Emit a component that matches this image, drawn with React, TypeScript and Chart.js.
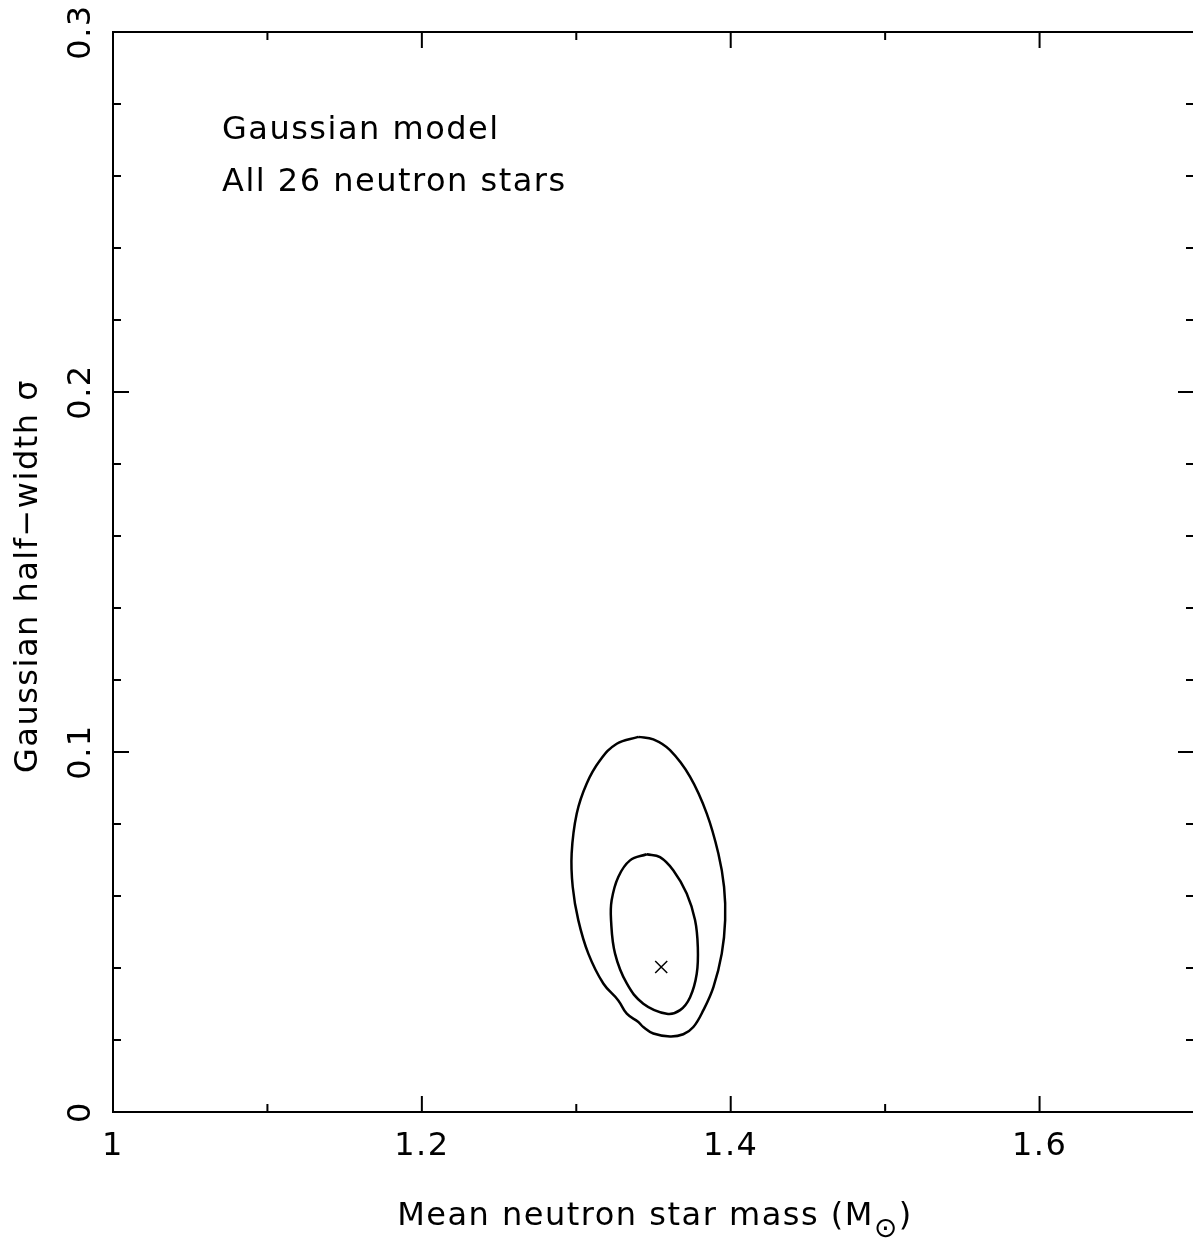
import React, { useEffect, useRef } from "react";
import { Chart, registerables } from "chart.js";

Chart.register(...registerables);

// ---- Data ----
// Outer confidence contour (mean mass, sigma)
const outerMass = [1.3402, 1.3262, 1.3154, 1.3067, 1.3003, 1.297, 1.2977, 1.3013, 1.3078, 1.3175, 1.3272, 1.3327, 1.3402, 1.3434, 1.3499, 1.3607, 1.3693, 1.3758, 1.3823, 1.3888, 1.3942, 1.3964, 1.3957, 1.392, 1.3845, 1.3737, 1.3607, 1.3499, 1.3402];
const outerSigma = [0.1042, 0.1023, 0.0977, 0.0912, 0.0829, 0.0718, 0.0625, 0.0533, 0.044, 0.0357, 0.031, 0.0273, 0.025, 0.0236, 0.0218, 0.021, 0.0216, 0.0236, 0.0283, 0.0347, 0.044, 0.0533, 0.0625, 0.0718, 0.0829, 0.0931, 0.1005, 0.1035, 0.1042];
// Inner confidence contour
const innerMass = [1.3456, 1.3348, 1.3272, 1.3229, 1.3225, 1.3251, 1.3327, 1.3434, 1.3586, 1.3672, 1.3737, 1.378, 1.3787, 1.3769, 1.3715, 1.3629, 1.3542, 1.3456];
const innerSigma = [0.0716, 0.0699, 0.0653, 0.0588, 0.0533, 0.044, 0.0357, 0.0301, 0.0273, 0.0283, 0.0319, 0.0384, 0.0458, 0.0533, 0.0607, 0.0671, 0.0708, 0.0716];
// Best fit point
const bestMass = [1.355];
const bestSigma = [0.0403];

// Axis ranges and tick labels
const xRange = [1, 1.7];
const yRange = [0, 0.3];
const xTickValues = [1, 1.2, 1.4, 1.6];
const xTickLabels = ["1", "1.2", "1.4", "1.6"];
const yTickValues = [0, 0.1, 0.2, 0.3];
const yTickLabels = ["0", "0.1", "0.2", "0.3"];
const xTitle = "Mean neutron star mass (M";
const xTitleSub = "\u2299";
const xTitleEnd = ")";
const yTitle = "Gaussian half\u2212width \u03c3";
const notes = ["Gaussian model", "All 26 neutron stars"];

const FONT = '"DejaVu Sans", sans-serif';

function toPoints(xs: number[], ys: number[]) {
  return xs.map((x, i) => ({ x, y: ys[i] }));
}

const framePlugin = {
  id: "frameTicks",
  afterDraw(chart: any) {
    const { ctx, chartArea } = chart;
    const xs = chart.scales.x;
    const ys = chart.scales.y;
    const { left, right, top, bottom } = chartArea;
    ctx.save();
    ctx.strokeStyle = "#000";
    ctx.fillStyle = "#000";
    ctx.lineWidth = 2;
    ctx.lineCap = "butt";
    ctx.strokeRect(left, top, right - left, bottom - top);

    // y ticks (minor every 0.02, major every 0.1)
    ys.ticks.forEach((t: any) => {
      const v = t.value;
      const py = ys.getPixelForValue(v);
      const major = Math.round(v * 50) % 5 === 0;
      const len = major ? 16 : 8;
      ctx.beginPath();
      ctx.moveTo(left, py);
      ctx.lineTo(left + len, py);
      ctx.moveTo(right, py);
      ctx.lineTo(right - len, py);
      ctx.stroke();
    });
    // x ticks (minor every 0.1, major every 0.2)
    xs.ticks.forEach((t: any) => {
      const v = t.value;
      const px = xs.getPixelForValue(v);
      const major = Math.round(v * 10) % 2 === 0;
      const len = major ? 16 : 8;
      ctx.beginPath();
      ctx.moveTo(px, bottom);
      ctx.lineTo(px, bottom - len);
      ctx.moveTo(px, top);
      ctx.lineTo(px, top + len);
      ctx.stroke();
    });

    ctx.font = `32px ${FONT}`;
    (ctx as any).letterSpacing = "1.5px";
    ctx.textBaseline = "alphabetic";
    // x tick labels
    ctx.textAlign = "center";
    xTickValues.forEach((v, i) => {
      ctx.fillText(xTickLabels[i], xs.getPixelForValue(v), 1155);
    });
    // y tick labels (rotated)
    yTickValues.forEach((v, i) => {
      ctx.save();
      ctx.translate(90, ys.getPixelForValue(v));
      ctx.rotate(-Math.PI / 2);
      ctx.fillText(yTickLabels[i], 0, 0);
      ctx.restore();
    });
    // y title
    ctx.save();
    ctx.translate(37, 576);
    ctx.rotate(-Math.PI / 2);
    ctx.fillText(yTitle, 0, 0);
    ctx.restore();

    // x title with subscript
    ctx.textAlign = "left";
    ctx.font = `32px ${FONT}`;
    const w1 = ctx.measureText(xTitle).width;
    ctx.font = `28px ${FONT}`;
    const w2 = ctx.measureText(xTitleSub).width;
    ctx.font = `32px ${FONT}`;
    const w3 = ctx.measureText(xTitleEnd).width;
    const total = w1 + w2 + w3;
    const x0 = 655 - total / 2;
    ctx.fillText(xTitle, x0, 1225);
    ctx.font = `28px ${FONT}`;
    ctx.fillText(xTitleSub, x0 + w1, 1237);
    ctx.font = `32px ${FONT}`;
    ctx.fillText(xTitleEnd, x0 + w1 + w2, 1225);

    // notes
    ctx.fillText(notes[0], 222, 139);
    ctx.fillText(notes[1], 222, 191);
    ctx.restore();
  },
};

export default function App() {
  const ref = useRef<HTMLCanvasElement | null>(null);
  useEffect(() => {
    document.body.style.margin = "0";
    const canvas = ref.current!;
    const chart = new Chart(canvas, {
      type: "scatter",
      data: {
        datasets: [
          {
            label: "outer",
            data: toPoints(outerMass, outerSigma),
            showLine: true,
            borderColor: "#000",
            borderWidth: 2.5,
            pointRadius: 0,
            tension: 0.4,
            fill: false,
          },
          {
            label: "inner",
            data: toPoints(innerMass, innerSigma),
            showLine: true,
            borderColor: "#000",
            borderWidth: 2.5,
            pointRadius: 0,
            tension: 0.4,
            fill: false,
          },
          {
            label: "best",
            data: toPoints(bestMass, bestSigma),
            showLine: false,
            pointStyle: "crossRot",
            pointRadius: 8.5,
            borderColor: "#000",
            borderWidth: 1.5,
          },
        ],
      },
      options: {
        responsive: false,
        maintainAspectRatio: false,
        animation: false,
        devicePixelRatio: 1,
        layout: { autoPadding: false, padding: { top: 32, right: 2, left: 0, bottom: 0 } },
        plugins: {
          legend: { display: false },
          tooltip: { enabled: false },
          title: { display: false },
        },
        scales: {
          x: {
            type: "linear",
            min: xRange[0],
            max: xRange[1],
            ticks: { display: false, stepSize: 0.1 },
            grid: { display: false },
            border: { display: false },
            afterFit: (s: any) => {
              s.height = 129;
            },
          },
          y: {
            type: "linear",
            min: yRange[0],
            max: yRange[1],
            ticks: { display: false, stepSize: 0.02 },
            grid: { display: false },
            border: { display: false },
            afterFit: (s: any) => {
              s.width = 113;
            },
          },
        },
      },
      plugins: [framePlugin],
    });
    return () => chart.destroy();
  }, []);
  return (
    <div
      style={{
        position: "fixed",
        left: 0,
        top: 0,
        width: 1193,
        height: 1241,
        overflow: "hidden",
        background: "#fff",
      }}
    >
      <canvas ref={ref} width={1196} height={1241} style={{ display: "block" }} />
    </div>
  );
}
